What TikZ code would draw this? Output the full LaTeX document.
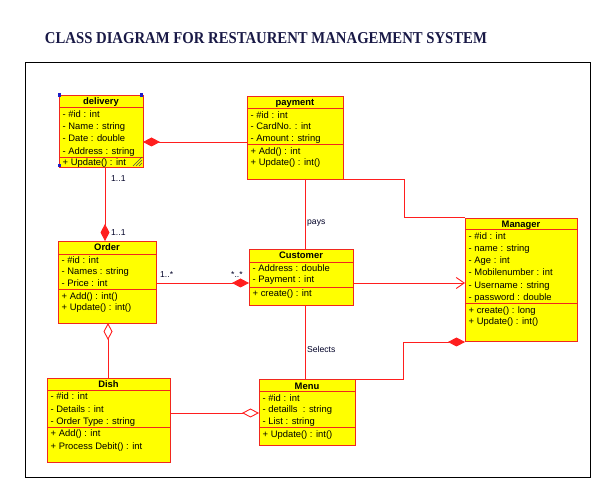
\documentclass[tikz,border=0pt]{standalone}
\usepackage{fontspec}
\setmainfont{Liberation Sans}
\newfontfamily\titlefont{Liberation Serif}
\usetikzlibrary{arrows.meta}
\definecolor{boxfill}{RGB}{255,255,0}
\definecolor{boxline}{RGB}{240,40,30}
\definecolor{conn}{RGB}{255,30,30}
\definecolor{titlecol}{RGB}{25,25,70}
\definecolor{handle}{RGB}{30,30,200}
\tikzset{
  classrect/.style={draw=boxline, fill=boxfill, line width=0.9pt, inner sep=0pt, outer sep=0pt, anchor=north west},
  sepline/.style={draw=boxline, line width=0.9pt},
  attr/.style={anchor=west, inner sep=0pt, xshift=1.5pt, font=\fontsize{9.4}{11}\selectfont, text height=8.6pt, text depth=1.9pt},
  head/.style={anchor=center, inner sep=0pt, font=\fontsize{9.4}{11}\selectfont\bfseries, text height=8.6pt, text depth=1.9pt},
  conline/.style={draw=conn, line width=0.9pt},
  lbl/.style={anchor=west, inner sep=0pt, font=\fontsize{8.6}{10}\selectfont, text=black!85!blue},
  fdiam/.style={-{Diamond[length=17pt,width=9pt,fill=conn]}},
  odiam/.style={-{Diamond[open,length=17pt,width=9pt,fill=white]}},
  larrow/.style={-{Straight Barb[length=8pt,width=11pt]}}
}
\begin{document}
\begin{tikzpicture}[x=1pt,y=-1pt]
\useasboundingbox (0,0) rectangle (606,489);
% title
\node[text=titlecol, inner sep=0pt] (title) at (266,38)
  {\resizebox{442pt}{11pt}{\titlefont\bfseries CLASS DIAGRAM FOR RESTAURENT MANAGEMENT SYSTEM}};
% frame
\node[draw=black, line width=0.6pt, minimum width=565pt, minimum height=415pt, anchor=north west, inner sep=0pt] (frame) at (25,62) {};

% ---- delivery
\node[classrect, minimum width=84pt, minimum height=72pt] (delivery) at (59,95) {};
\draw[sepline] (delivery.west |- 0,107) -- (delivery.east |- 0,107);
\draw[sepline] (delivery.west |- 0,157) -- (delivery.east |- 0,157);
\node[head] (deliveryT) at (101,101.5) {delivery};
\node[attr] (d1) at (61,114) {- \#id : int};
\node[attr] (d2) at (61,126) {- Name : string};
\node[attr] (d3) at (61,138.5) {- Date : double};
\node[attr] (d4) at (61,151) {- Address : string};
\node[attr] (d5) at (61,162) {+ Update() : int};
\fill[handle] (57.5,93.5) rectangle (61,97);
\fill[handle] (139.5,93.5) rectangle (143,97);
\fill[handle] (57.5,164) rectangle (61,167.5);
\draw[black!70, line width=0.5pt] (133,166) -- (142,157) (136,166) -- (142,160) (139,166) -- (142,163);

% ---- payment
\node[classrect, minimum width=96pt, minimum height=83pt] (payment) at (247,96) {};
\draw[sepline] (payment.west |- 0,108) -- (payment.east |- 0,108);
\draw[sepline] (payment.west |- 0,144) -- (payment.east |- 0,144);
\node[head] (paymentT) at (295,102) {payment};
\node[attr] (p1) at (249,115) {- \#id : int};
\node[attr] (p2) at (249,126.5) {- CardNo. : int};
\node[attr] (p3) at (249,138.5) {- Amount : string};
\node[attr] (p4) at (249,151) {+ Add() : int};
\node[attr] (p5) at (249,162) {+ Update() : int()};

% ---- Order
\node[classrect, minimum width=98pt, minimum height=82pt] (order) at (58,241) {};
\draw[sepline] (order.west |- 0,254) -- (order.east |- 0,254);
\draw[sepline] (order.west |- 0,289) -- (order.east |- 0,289);
\node[head] (orderT) at (107,247.5) {Order};
\node[attr] (o1) at (60,260) {- \#id : int};
\node[attr] (o2) at (60,271.5) {- Names : string};
\node[attr] (o3) at (60,283) {- Price : int};
\node[attr] (o4) at (60,296) {+ Add() : int()};
\node[attr] (o5) at (60,307.5) {+ Update() : int()};

% ---- Customer
\node[classrect, minimum width=104pt, minimum height=56pt] (customer) at (249,249) {};
\draw[sepline] (customer.west |- 0,262) -- (customer.east |- 0,262);
\draw[sepline] (customer.west |- 0,287) -- (customer.east |- 0,287);
\node[head] (customerT) at (301,255) {Customer};
\node[attr] (c1) at (251,268) {- Address : double};
\node[attr] (c2) at (251,279.5) {- Payment : int};
\node[attr] (c3) at (251,293) {+ create() : int};

% ---- Manager
\node[classrect, minimum width=112pt, minimum height=123pt] (manager) at (465,218) {};
\draw[sepline] (manager.west |- 0,229) -- (manager.east |- 0,229);
\draw[sepline] (manager.west |- 0,303) -- (manager.east |- 0,303);
\node[head] (managerT) at (521,224) {Manager};
\node[attr] (m1) at (467,236) {- \#id : int};
\node[attr] (m2) at (467,248) {- name : string};
\node[attr] (m3) at (467,260.5) {- Age : int};
\node[attr] (m4) at (467,272.5) {- Mobilenumber : int};
\node[attr] (m5) at (467,285) {- Username : string};
\node[attr] (m6) at (467,297.5) {- password : double};
\node[attr] (m7) at (467,310) {+ create() : long};
\node[attr] (m8) at (467,321) {+ Update() : int()};

% ---- Dish
\node[classrect, minimum width=123pt, minimum height=84pt] (dish) at (47,378) {};
\draw[sepline] (dish.west |- 0,390) -- (dish.east |- 0,390);
\draw[sepline] (dish.west |- 0,427) -- (dish.east |- 0,427);
\node[head] (dishT) at (108.5,384.5) {Dish};
\node[attr] (s1) at (49,396.5) {- \#id : int};
\node[attr] (s2) at (49,409) {- Details : int};
\node[attr] (s3) at (49,421.5) {- Order Type : string};
\node[attr] (s4) at (49,433.5) {+ Add() : int};
\node[attr] (s5) at (49,446) {+ Process Debit() : int};

% ---- Menu
\node[classrect, minimum width=96pt, minimum height=66pt] (menu) at (259,379) {};
\draw[sepline] (menu.west |- 0,391) -- (menu.east |- 0,391);
\draw[sepline] (menu.west |- 0,427) -- (menu.east |- 0,427);
\node[head] (menuT) at (307,386) {Menu};
\node[attr] (n1) at (261,398) {- \#id : int};
\node[attr] (n2) at (261,409.5) {- detaills\ \ : string};
\node[attr] (n3) at (261,421.5) {- List : string};
\node[attr] (n4) at (261,434) {+ Update() : int()};

% ---- connectors
\draw[conline, fdiam] (payment.west |- 0,142) -- (delivery.east |- 0,142);
\draw[conline, fdiam] (delivery.south -| 105,0) -- (order.north -| 105,0);
\node[lbl] (l11a) at (111,179) {1..1};
\node[lbl] (l11b) at (111,233) {1..1};
\draw[conline, fdiam] (order.east |- 0,283) -- (customer.west |- 0,283);
\node[lbl] (l1s) at (160,275) {1..*};
\node[lbl] (lss) at (231,275) {*..*};
\draw[conline] (payment.south -| 305,0) -- (customer.north -| 305,0);
\node[lbl] (pays) at (307,223) {pays};
\draw[conline] (customer.south -| 305,0) -- (menu.north -| 305,0);
\node[lbl] (selects) at (307,349.5) {Selects};
\draw[conline, larrow] (customer.east |- 0,283) -- (manager.west |- 0,283);
\draw[conline] (payment.south east) -- (404,179) -- (404,217) -- (manager.west |- 0,217);
\draw[conline, fdiam] (menu.north east) -- (403,379) -- (403,342) -- (manager.west |- 0,342);
\draw[conline, odiam] (dish.north -| 108,0) -- (order.south -| 108,0);
\draw[conline, odiam] (dish.east |- 0,413) -- (menu.west |- 0,413);
\end{tikzpicture}
\end{document}
